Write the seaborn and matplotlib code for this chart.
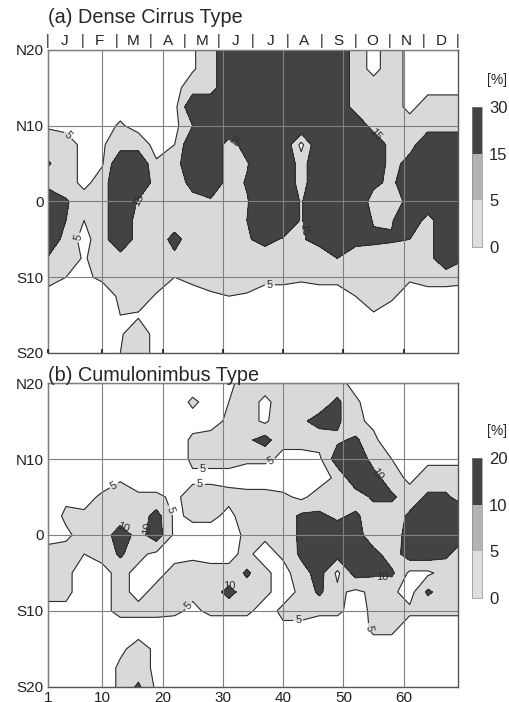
import numpy as np
import matplotlib
matplotlib.use("Agg")
import matplotlib.pyplot as plt
import matplotlib.cm as cm
from matplotlib.colors import ListedColormap, BoundaryNorm
import seaborn as sns

sns.set_theme(style="white")
plt.rcParams["font.family"] = ["Liberation Sans", "DejaVu Sans"]

# grid: pentad columns, latitude rows (north to south)
PENTADS = [1, 4, 7, 10, 13, 16, 19, 22, 25, 28, 31, 34,
           37, 40, 43, 46, 49, 52, 55, 58, 61, 64, 67, 70]
LATS = [20, 17.5, 15, 12.5, 10, 7.5, 5, 2.5, 0,
        -2.5, -5, -7.5, -10, -12.5, -15, -17.5, -20]

# (a) dense cirrus frequency [%]
CIRRUS = [
    [2, 2, 2, 2, 2, 2, 2, 2, 4, 10, 25, 25, 25, 25, 25, 25, 25, 10, 2, 10, 2, 2, 2, 2],
    [2, 2, 2, 2, 2, 2, 2, 2, 4, 10, 25, 25, 25, 25, 25, 25, 25, 10, 2, 10, 2, 2, 2, 2],
    [2, 2, 2, 2, 2, 2, 2, 2, 10, 10, 25, 25, 25, 25, 25, 25, 25, 10, 10, 10, 2, 2, 2, 2],
    [2, 2, 2, 2, 2, 2, 2, 2, 25, 25, 25, 25, 25, 25, 25, 25, 25, 10, 10, 10, 2, 10, 10, 10],
    [4, 2, 2, 2, 6, 2, 2, 2, 15, 25, 25, 25, 25, 25, 25, 25, 25, 25, 10, 10, 10, 10, 10, 10],
    [10, 10, 2, 4, 10, 10, 2, 5, 25, 25, 10, 20, 25, 25, 2, 25, 25, 25, 25, 10, 10, 25, 25, 25],
    [16, 10, 2, 4, 25, 25, 6, 10, 25, 25, 10, 14, 25, 25, 10, 25, 25, 25, 25, 10, 20, 25, 25, 25],
    [10, 10, 2, 10, 25, 25, 10, 10, 18, 25, 10, 16, 25, 25, 10, 25, 25, 25, 18, 12, 25, 25, 25, 25],
    [25, 16, 10, 10, 25, 14, 10, 10, 12, 13, 10, 14, 25, 25, 14, 25, 25, 25, 10, 10, 18, 25, 25, 25],
    [25, 15, 5, 10, 25, 10, 10, 10, 10, 10, 10, 15, 25, 25, 14, 25, 25, 25, 14, 14, 25, 10, 25, 25],
    [25, 10, 2, 10, 25, 10, 10, 18, 10, 10, 10, 14, 18, 14, 14, 18, 25, 18, 17, 16, 15, 10, 25, 25],
    [14, 10, 4, 10, 10, 10, 10, 13, 10, 10, 10, 10, 10, 10, 10, 10, 15, 10, 10, 10, 10, 10, 25, 16],
    [8, 5, 4, 6, 10, 10, 10, 5, 7, 8, 10, 10, 7, 7, 6, 7, 7, 10, 10, 10, 6, 8, 8, 7],
    [2, 2, 2, 2, 6, 10, 4, 2, 2, 4, 5, 4, 2, 2, 2, 2, 2, 5, 10, 6, 2, 2, 2, 2],
    [2, 2, 2, 2, 5, 4, 2, 2, 2, 2, 2, 2, 2, 2, 2, 2, 2, 2, 4, 2, 2, 2, 2, 2],
    [2, 2, 2, 2, 4, 10, 2, 2, 2, 2, 2, 2, 2, 2, 2, 2, 2, 2, 2, 2, 2, 2, 2, 2],
    [2, 2, 2, 2, 5, 10, 2, 2, 2, 2, 2, 2, 2, 2, 2, 2, 2, 2, 2, 2, 2, 2, 2, 2],
]

# (b) cumulonimbus frequency [%]
CUMULO = [
    [2, 2, 2, 2, 2, 2, 2, 2, 2, 2, 4, 7, 7, 9, 7, 7, 7, 3, 2, 2, 2, 2, 2, 2],
    [2, 2, 2, 2, 2, 2, 2, 2, 6, 3, 5, 7, 4, 7, 7, 7, 11, 6, 2, 2, 2, 2, 2, 2],
    [2, 2, 2, 2, 2, 2, 2, 2, 3, 3, 6, 7, 4, 9, 9, 12, 11, 6, 4, 2, 2, 2, 2, 2],
    [2, 2, 2, 2, 2, 2, 2, 2, 6, 7, 6, 9, 12, 6, 7, 7, 9, 11, 6, 2, 2, 2, 2, 2],
    [2, 2, 2, 2, 2, 2, 2, 2, 6, 6, 6, 6, 6, 4, 3, 4, 13, 14, 8, 5, 4, 4, 4, 4],
    [2, 2, 2, 2, 4, 2, 2, 2, 4, 4, 4, 2, 2, 2, 2, 3, 6, 14, 12, 7, 4, 7, 7, 7],
    [2, 4, 3, 6, 9, 6, 6, 4, 7, 7, 6, 7, 7, 6, 4, 7, 7, 7, 11, 11, 7, 11, 11, 7],
    [2, 6, 6, 7, 7, 7, 12, 4, 6, 6, 4, 7, 7, 7, 11, 11, 9, 11, 7, 7, 11, 14, 14, 14],
    [4, 4, 7, 7, 13, 8, 13, 4, 3, 3, 3, 6, 6, 7, 11, 11, 13, 13, 6, 6, 13, 12, 12, 11],
    [6, 7, 5, 6, 11, 6, 4, 4, 4, 4, 4, 6, 3, 6, 11, 13, 12, 13, 12, 7, 13, 13, 11, 7],
    [6, 6, 3, 4, 6, 4, 4, 6, 7, 6, 6, 11, 6, 3, 8, 12, 4, 12, 11, 11, 4, 4, 7, 7],
    [6, 6, 3, 4, 6, 4, 6, 9, 6, 7, 12, 7, 6, 3, 6, 11, 6, 4, 6, 6, 3, 11, 7, 7],
    [4, 4, 3, 4, 6, 6, 6, 6, 4, 6, 6, 6, 3, 6, 6, 6, 6, 3, 6, 6, 6, 6, 6, 6],
    [2, 2, 2, 2, 3, 3, 3, 2, 2, 2, 2, 2, 2, 4, 4, 2, 2, 2, 6, 6, 2, 2, 2, 2],
    [2, 2, 2, 2, 4, 7, 4, 2, 2, 2, 2, 2, 2, 2, 2, 2, 2, 2, 2, 2, 2, 2, 2, 2],
    [2, 2, 2, 2, 6, 7, 4, 2, 2, 2, 2, 2, 2, 2, 2, 2, 2, 2, 2, 2, 2, 2, 2, 2],
    [2, 2, 2, 2, 6, 11, 4, 2, 2, 2, 2, 2, 2, 2, 2, 2, 2, 2, 2, 2, 2, 2, 2, 2],
]

CIRRUS_LEVELS = [0, 5, 15, 30]
CUMULO_LEVELS = [0, 5, 10, 20]
MONTHS = ["J", "F", "M", "A", "M", "J", "J", "A", "S", "O", "N", "D"]
PENTAD_TICKS = [1, 10, 20, 30, 40, 50, 60]
LAT_TICKS = [-20, -10, 0, 10, 20]
LAT_LABELS = ["S20", "S10", "0", "N10", "N20"]

# where the contour labels sit (pentad, latitude)
CIRRUS_LABEL_AT = [(5.1, 9.3), (15.4, 0.6), (5.8, -4.7), (31.7, 7.7),
                   (43.1, -3.8), (56.0, 9.4), (37.8, -10.0)]
CUMULO_LABEL_AT = [(11.3, 7.4), (21.8, 3.4), (13.4, 1.0), (16.3, 1.0),
                   (26.7, 10.3), (26.2, 4.7), (23.2, -8.5), (30.4, -5.7),
                   (38.1, 9.5), (55.2, 7.8), (56.4, -5.7), (42.5, -12.0),
                   (53.6, -12.3)]

MAP_COLORS = ["white", "#d9d9d9", "#434343"]
BAR_COLORS = ["#dedede", "#b3b3b3", "#434343"]


def panel(fig, ax, cax, field, levels, label_at, title, title_y, show_x):
    z = np.array(field, dtype=float)
    ax.contourf(PENTADS, LATS, z, levels=levels, colors=MAP_COLORS)
    cs = ax.contour(PENTADS, LATS, z, levels=levels[1:3],
                    colors="#2e2e2e", linewidths=0.8)
    ax.clabel(cs, fmt="%d", fontsize=8, inline=True, inline_spacing=2,
              manual=label_at)

    ax.set_xlim(1, 69)
    ax.set_ylim(-20, 20)
    ax.set_xticks(PENTAD_TICKS)
    ax.set_yticks(LAT_TICKS)
    ax.set_yticklabels(LAT_LABELS)
    if not show_x:
        ax.set_xticklabels([])
    ax.tick_params(direction="in", length=3, labelsize=11, pad=3,
                   colors="#222222")
    ax.set_axisbelow(False)
    ax.grid(True, color="#808080", lw=0.8)
    for s in ax.spines.values():
        s.set_color("#555555")
        s.set_linewidth(1.0)

    fig.text(ax.get_position().x0, title_y, title, fontsize=14.3,
             ha="left", va="center")

    sm = cm.ScalarMappable(norm=BoundaryNorm(levels, 3),
                           cmap=ListedColormap(BAR_COLORS))
    cb = fig.colorbar(sm, cax=cax, ticks=levels, spacing="uniform")
    cb.outline.set_linewidth(0.5)
    cb.outline.set_edgecolor("#888888")
    cax.tick_params(length=0, labelsize=12, pad=5)
    pos = cax.get_position()
    fig.text(0.975, pos.y1 + 0.038, "[%]", fontsize=10, ha="center",
             va="center")


fig = plt.figure(figsize=(5.1, 7.02), dpi=100)
ax_a = fig.add_axes([0.094, 0.4972, 0.804, 0.4316])
ax_b = fig.add_axes([0.094, 0.0214, 0.804, 0.4330])
cax_a = fig.add_axes([0.9255, 0.6481, 0.0196, 0.1994])
cax_b = fig.add_axes([0.9255, 0.1481, 0.0196, 0.1994])

panel(fig, ax_a, cax_a, CIRRUS, CIRRUS_LEVELS, CIRRUS_LABEL_AT,
      "(a) Dense Cirrus Type", 0.975, False)
panel(fig, ax_b, cax_b, CUMULO, CUMULO_LEVELS, CUMULO_LABEL_AT,
      "(b) Cumulonimbus Type", 0.4644, True)

# month markers along the top of panel (a)
top = ax_a.twiny()
top.set_xlim(0, 12)
top.set_xticks(range(13))
top.set_xticklabels(["|"] * 13, fontsize=10)
top.set_xticks(np.arange(12) + 0.5, minor=True)
top.set_xticklabels(MONTHS, minor=True, fontsize=11)
top.tick_params(axis="x", which="both", length=0, pad=1.5, colors="#222222")
for s in top.spines.values():
    s.set_visible(False)

fig.savefig("out.png", dpi=100)
